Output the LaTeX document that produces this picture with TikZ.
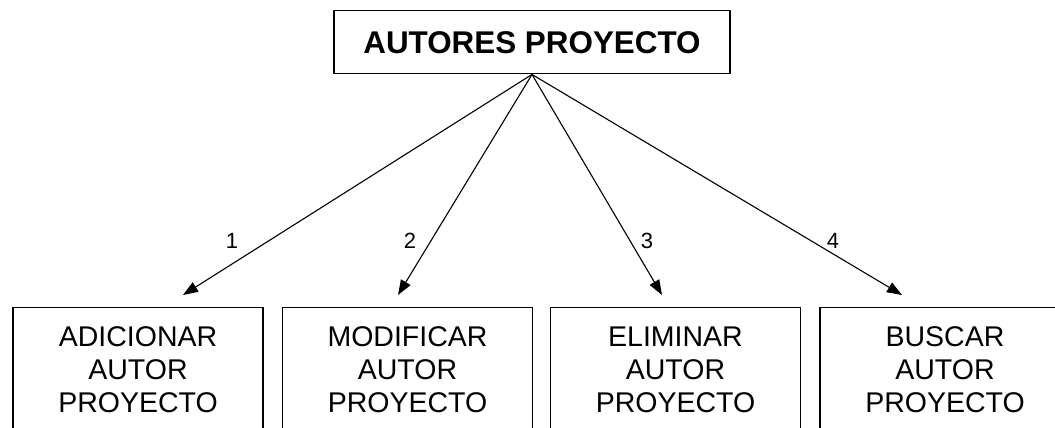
\documentclass[tikz,border=0pt]{standalone}
\usepackage{fontspec}
\setmainfont{Liberation Sans}
\usetikzlibrary{arrows.meta, positioning}

\begin{document}
\begin{tikzpicture}[
    x=1pt, y=-1pt,
    every node/.style={font=\fontsize{28.5}{33}\selectfont},
    titlebox/.style={rectangle, draw, line width=1.3pt, minimum width=396pt, minimum height=63pt, font=\fontsize{31.4}{36}\selectfont\bfseries},
    opbox/.style={rectangle, draw, line width=1.3pt, minimum width=250pt, minimum height=124pt, anchor=north, align=center, inner sep=0pt},
    arrow/.style={-{Triangle[length=15pt, width=11pt]}, line width=1.1pt},
    num/.style={font=\fontsize{22}{26}\selectfont}
]
\clip (0,0) rectangle (1055,428);

% ============ MAIN BOX ============
\node[titlebox] (autores) at (532, 42.3) {AUTORES PROYECTO};

% ============ OPERATIONS ============
\node[opbox] (adicionar) at (138, 307) {ADICIONAR\\AUTOR\\PROYECTO};
\node[opbox] (modificar) at (407.5, 307) {MODIFICAR\\AUTOR\\PROYECTO};
\node[opbox] (eliminar) at (675.5, 307) {ELIMINAR\\AUTOR\\PROYECTO};
\node[opbox] (buscar) at (945, 307) {BUSCAR\\AUTOR\\PROYECTO};

% Arrow ends above the boxes
\coordinate (tip1) at (183, 295);
\coordinate (tip2) at (398, 295);
\coordinate (tip3) at (662, 295);
\coordinate (tip4) at (902, 295);

% Arrows
\draw[arrow] (autores.south) -- (tip1);
\draw[arrow] (autores.south) -- (tip2);
\draw[arrow] (autores.south) -- (tip3);
\draw[arrow] (autores.south) -- (tip4);

% Arrow numbers
\node[num] (n1) at (232, 241) {1};
\node[num] (n2) at (410, 241) {2};
\node[num] (n3) at (647, 241) {3};
\node[num] (n4) at (833, 241) {4};

\end{tikzpicture}
\end{document}
